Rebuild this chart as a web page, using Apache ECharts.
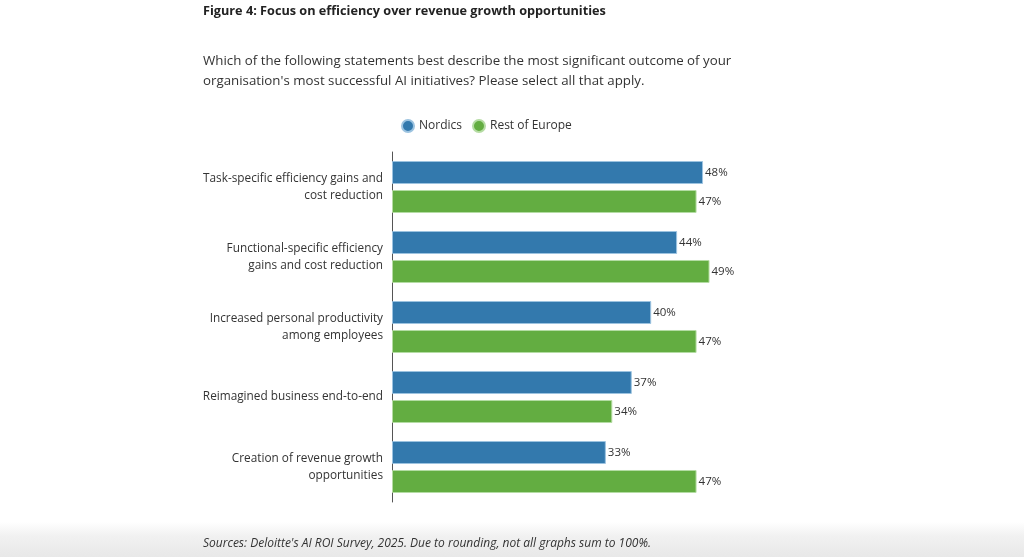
<!DOCTYPE html>
<html>
<head>
<meta charset="utf-8">
<script src="https://cdn.jsdelivr.net/npm/echarts@6/dist/echarts.min.js"></script>
<style>
html,body{margin:0;padding:0;background:#fff;}
#c{width:1024px;height:557px;}
</style>
</head>
<body>
<div id="c"></div>
<script>
var categories = [
  "Task-specific efficiency gains and\ncost reduction",
  "Functional-specific efficiency\ngains and cost reduction",
  "Increased personal productivity\namong employees",
  "Reimagined business end-to-end",
  "Creation of revenue growth\nopportunities"
];
var nordics = [48, 44, 40, 37, 33];
var restOfEurope = [47, 49, 47, 34, 47];

var chart = echarts.init(document.getElementById('c'), null, {renderer: 'canvas'});
var font = '"Open Sans", "Noto Sans", sans-serif';
var labelCfg = {
  show: true, position: 'right', distance: 2,
  formatter: function(p){ return p.value + '%'; },
  color: '#333', fontSize: 11.5, fontFamily: font
};
chart.setOption({
  backgroundColor: '#fff',
  animation: false,
  graphic: [
    {type: 'rect', left: 0, top: 522, shape: {width: 1024, height: 35}, z: -10,
     style: {fill: new echarts.graphic.LinearGradient(0, 0, 0, 1, [
       {offset: 0, color: '#ffffff'}, {offset: 0.4, color: '#f1f1f1'}, {offset: 1, color: '#e8e8e8'}])}},
    {type: 'text', left: 203, top: 5, style: {text: 'Figure 4: Focus on efficiency over revenue growth opportunities',
      font: 'bold 12.7px ' + font, fill: '#222'}},
    {type: 'text', left: 203, top: 51, style: {text: "Which of the following statements best describe the most significant outcome of your\norganisation's most successful AI initiatives? Please select all that apply.",
      font: '13.3px ' + font, fill: '#333', lineHeight: 20}},
    {type: 'text', left: 203, top: 538, style: {text: "Sources: Deloitte's AI ROI Survey, 2025. Due to rounding, not all graphs sum to 100%.",
      font: 'italic 12px ' + font, fill: '#333'}}
  ],
  legend: {
    top: 114, left: 396, itemWidth: 12, itemHeight: 12, icon: 'circle', itemGap: 10,
    textStyle: {color: '#333', fontSize: 12, fontFamily: font},
    data: ['Nordics', 'Rest of Europe']
  },
  grid: {left: 392, top: 152, width: 388.8, height: 350, containLabel: false},
  xAxis: {type: 'value', min: 0, max: 60, show: false},
  yAxis: {
    type: 'category', inverse: true, data: categories,
    axisLine: {show: true, lineStyle: {color: '#555', width: 1}},
    axisTick: {show: false},
    axisLabel: {color: '#333', fontSize: 11.8, fontFamily: font, margin: 9, lineHeight: 17, align: 'right'}
  },
  series: [
    {name: 'Nordics', type: 'bar', data: nordics, barWidth: 23, barGap: '26%',
     itemStyle: {color: '#3379ad', borderColor: '#9cc3e0', borderWidth: 1}, label: labelCfg},
    {name: 'Rest of Europe', type: 'bar', data: restOfEurope, barWidth: 23,
     itemStyle: {color: '#63ad41', borderColor: '#b5dca3', borderWidth: 1}, label: labelCfg}
  ]
});
</script>
</body>
</html>
